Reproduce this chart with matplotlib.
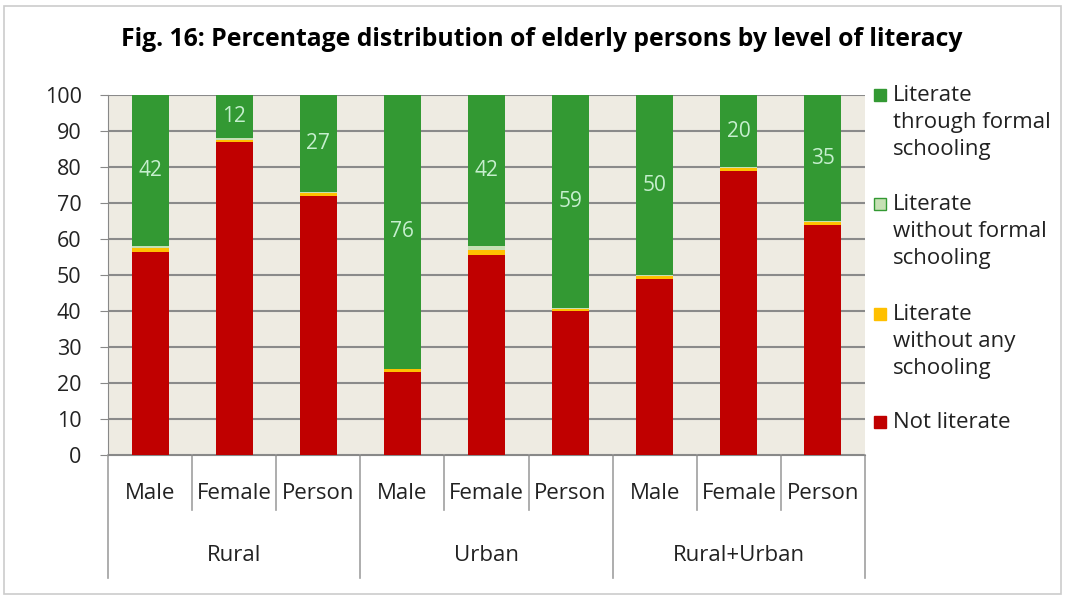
import matplotlib.pyplot as plt
import numpy as np

plt.rcParams['font.family'] = ['Open Sans', 'DejaVu Sans']

# data
sexes = ['Male', 'Female', 'Person'] * 3
areas = ['Rural', 'Urban', 'Rural+Urban']
not_literate = [56.5, 87.0, 72.0, 23.0, 55.5, 40.0, 49.0, 79.0, 64.0]
lit_no_school = [1.0, 0.6, 0.7, 1.0, 1.5, 0.5, 0.8, 0.7, 0.8]
lit_no_formal = [0.5, 0.4, 0.3, 0.0, 1.0, 0.5, 0.2, 0.3, 0.2]
lit_formal = [42, 12, 27, 76, 42, 59, 50, 20, 35]

red = '#c00000'
yellow = '#ffc000'
pale = '#c6e0b4'
green = '#339933'

fig = plt.figure(figsize=(10.67, 6.06), dpi=100)
ax = fig.add_axes([108 / 1067, 0.249, 757 / 1067, 0.594])
ax.set_facecolor('#eeebe2')

x = np.arange(len(sexes))
w = 0.44
b1 = np.array(not_literate)
b2 = b1 + np.array(lit_no_school)
b3 = b2 + np.array(lit_no_formal)
ax.bar(x, not_literate, w, color=red, zorder=3)
ax.bar(x, lit_no_school, w, bottom=b1, color=yellow, zorder=3)
ax.bar(x, lit_no_formal, w, bottom=b2, color=pale, zorder=3)
ax.bar(x, lit_formal, w, bottom=b3, color=green, zorder=3)

for xi, v, b in zip(x, lit_formal, b3):
    ax.text(xi, b + v / 2, str(v), ha='center', va='center',
            fontsize=15, color='#c6efce', zorder=4)

ax.set_xlim(-0.5, 8.5)
ax.set_ylim(0, 100)
ax.set_yticks(range(0, 101, 10))
ax.tick_params(axis='y', labelsize=15.5, length=6, color='#888888', pad=13,
               labelcolor='#222222')
ax.tick_params(axis='x', length=0, labelbottom=False)
ax.grid(axis='y', color='#8a8a8a', linewidth=1.5, zorder=1)
for s in ['top', 'right']:
    ax.spines[s].set_visible(False)
ax.spines['left'].set_color('#888888')
ax.spines['bottom'].set_color('#888888')

# two-level category axis
trans = ax.get_xaxis_transform()
for i in range(10):
    pos = i - 0.5
    low = -0.342 if i % 3 == 0 else -0.153
    ax.plot([pos, pos], [0, low], transform=trans, color='#a0a0a0',
            linewidth=1.2, clip_on=False)
for xi, s in zip(x, sexes):
    ax.text(xi, -0.108, s, transform=trans, ha='center', va='center',
            fontsize=16, color='#222222')
for j, a in enumerate(areas):
    ax.text(3 * j + 1, -0.28, a, transform=trans, ha='center', va='center',
            fontsize=16, color='#222222')

# legend drawn by hand so the swatch sits on the first line
leg_labels = ['Literate\nthrough formal\nschooling',
              'Literate\nwithout formal\nschooling',
              'Literate\nwithout any\nschooling',
              'Not literate']
leg_colors = [green, pale, yellow, red]
leg_edges = [green, green, yellow, red]
leg_y = [95, 204, 314, 422]
for lab, c, ec, yp in zip(leg_labels, leg_colors, leg_edges, leg_y):
    yf = 1 - yp / 606
    fig.patches.append(plt.Rectangle((874 / 1067, yf - 6 / 606), 12 / 1067, 12 / 606,
                                     transform=fig.transFigure, facecolor=c,
                                     edgecolor=ec, linewidth=1))
    fig.text(893 / 1067, yf + 10 / 606, lab, ha='left', va='top', fontsize=16,
             color='#222222', linespacing=1.38)

fig.suptitle('Fig. 16: Percentage distribution of elderly persons by level of literacy',
             x=0.508, y=0.955, fontsize=17.8, fontweight='bold')

fig.patches.append(plt.Rectangle((0.004, 0.02), 0.99, 0.97, transform=fig.transFigure,
                                 fill=False, edgecolor='#cccccc', linewidth=1.2))

fig.savefig('out.png', dpi=100)
